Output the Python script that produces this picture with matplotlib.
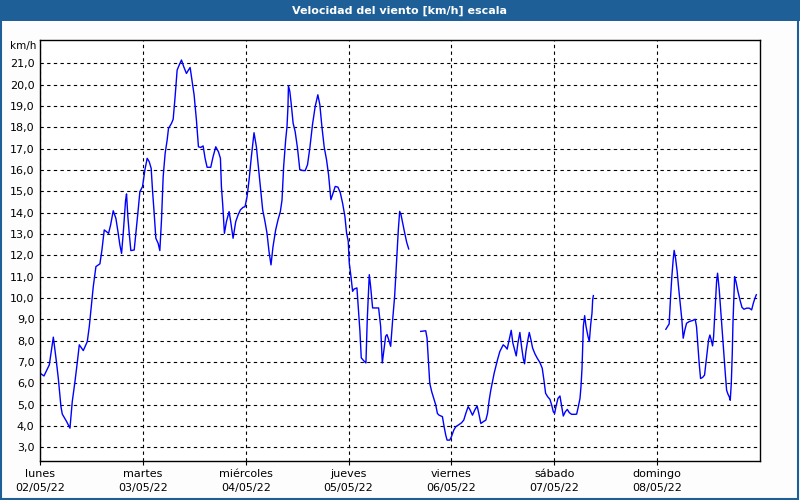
import numpy as np
import matplotlib.pyplot as plt
from matplotlib.patches import Rectangle

# hours since lunes 02/05/22 00:00 and wind speed in km/h (nan = gap)
hours = [0.0, 0.93, 2.17, 3.11, 3.73, 4.27, 4.89, 5.2, 6.21, 6.99, 7.53, 8.16, 8.7, 9.17,
         10.1, 11.03, 11.5, 12.04, 12.43, 13.05, 13.98, 14.45, 14.99, 16.0, 16.47, 17.09,
         17.71, 18.25, 18.64, 19.03, 19.42, 19.96, 20.19, 20.5, 20.82, 21.2, 21.98, 22.37,
         22.91, 23.3, 23.92, 24.47, 25.01, 25.48, 25.94, 26.25, 26.64, 27.03, 27.57, 27.96,
         28.35, 28.74, 29.2, 29.67, 29.98, 30.68, 31.07, 31.46, 32.0, 32.47, 33.01, 33.55,
         34.17, 34.64, 35.03, 35.5, 35.96, 36.5, 36.97, 37.51, 38.06, 38.52, 38.99, 39.84,
         40.39, 41.01, 41.63, 42.1, 42.33, 42.64, 43.03, 43.5, 44.12, 44.5, 45.05, 45.67,
         46.21, 46.76, 47.38, 47.84, 48.31, 48.78, 49.32, 49.94, 50.49, 50.95, 51.5, 51.96,
         52.5, 52.97, 53.44, 53.9, 54.37, 54.99, 55.53, 56.08, 56.47, 56.85, 57.32, 57.63,
         57.86, 57.97, 58.29, 58.6, 59.06, 59.53, 60.08, 60.62, 61.25, 61.87, 62.42, 62.96,
         63.58, 64.21, 64.83, 65.3, 65.77, 66.31, 66.86, 67.33, 67.87, 68.26, 68.88, 69.51,
         70.05, 70.6, 71.14, 71.53, 71.92, 72.16, 72.55, 72.94, 73.32, 73.95, 74.34, 74.65,
         74.96, 75.51, 76.05, 76.36, 76.83, 77.14, 77.61, 78.39, 79.01, 79.48, 79.87, 80.26,
         80.65, 80.96, 81.35, 81.82, 82.29, 82.75, 83.22, 83.61, 83.92, 84.23, 84.62, 85.09,
         85.56, 86.03, 87.4,
         88.83, 90.0, 90.31, 90.62, 90.94, 91.4, 91.87, 92.34, 92.73, 93.12, 93.9, 94.29,
         94.68, 94.99, 95.61, 96.0, 96.55, 97.01, 97.56, 98.34, 98.88, 99.35, 99.9, 100.29,
         100.91, 101.45, 102.0, 102.39, 102.86, 103.4, 104.03, 104.42, 104.81, 105.19,
         105.58, 105.97, 106.36, 106.75, 107.3, 107.69, 108.08, 108.55, 109.01, 109.48,
         109.95, 110.34, 110.73, 111.12, 111.51, 111.97, 112.36, 112.75, 113.06, 113.38,
         113.77, 114.16, 114.55, 114.94, 115.48, 116.03, 116.65, 117.19, 117.58, 117.97,
         118.44, 118.99, 119.38, 119.77, 120.08, 120.39, 120.86, 121.32, 121.79, 122.1,
         122.57, 123.04, 123.5, 124.05, 124.83, 125.22, 125.61, 126.0, 126.23, 126.47,
         126.62, 126.78, 127.09, 127.4, 127.87, 128.18, 128.49, 128.8, 128.96, 129.12, 137.0,
         146.03, 146.8, 147.12, 147.43, 147.74, 147.97, 148.29, 148.67, 149.06, 149.45,
         149.77, 150.08, 150.47, 150.86, 151.48, 152.26, 152.88, 153.19, 153.58, 153.81,
         154.13, 154.6, 155.06, 155.38, 155.69, 156.0, 156.31, 156.62, 156.93, 157.17,
         157.4, 157.64, 157.87, 158.1, 158.49, 158.88, 159.27, 159.58, 159.9, 160.21,
         160.52, 160.83, 161.06, 161.3, 161.53, 161.69, 161.92, 162.08, 162.39, 162.86,
         163.32, 163.79, 164.26, 164.88, 165.5, 166.05, 166.44, 166.83, 167.14]
speed = [6.47, 6.34, 6.86, 8.16, 7.17, 6.23, 4.9, 4.55, 4.2, 3.89, 5.14, 6.08, 6.97, 7.8,
         7.53, 7.95, 8.66, 9.75, 10.53, 11.47, 11.6, 12.25, 13.19, 13.03, 13.42, 14.09,
         13.73, 13.03, 12.48, 12.09, 13.03, 14.56, 14.88, 13.81, 13.03, 12.22, 12.25, 13.03,
         14.13, 14.98, 15.22, 16.0, 16.55, 16.39, 16.08, 15.06, 13.97, 12.8, 12.56, 12.22,
         13.66, 15.69, 16.78, 17.41, 17.95, 18.19, 18.38, 19.28, 20.69, 20.92, 21.16, 20.84,
         20.53, 20.69, 20.81, 20.14, 19.52, 18.34, 17.09, 17.06, 17.13, 16.55, 16.13, 16.13,
         16.63, 17.09, 16.86, 16.55, 15.22, 14.36, 13.03, 13.58, 14.05, 13.58, 12.8, 13.58,
         13.89, 14.13, 14.25, 14.28, 14.75, 15.53, 16.63, 17.75, 17.09, 16.16, 15.06, 14.13,
         13.58, 13.03, 12.17, 11.55, 12.41, 13.19, 13.66, 14.05, 14.59, 16.16, 17.41, 18.03,
         18.97, 19.95, 19.69, 19.14, 18.2, 17.81, 17.03, 16.02, 15.98, 15.97, 16.25, 17.03,
         18.13, 18.98, 19.53, 19.06, 18.05, 17.08, 16.48, 15.78, 14.61, 14.84, 15.23, 15.2,
         14.95, 14.45, 13.83, 13.05, 12.66, 11.64, 11.02, 10.31, 10.42, 10.47, 9.3, 8.44,
         7.19, 7.06, 6.95, 8.98, 11.09, 10.55, 9.53, 9.53, 9.53, 8.67, 6.95, 7.58,
         8.2, 8.28, 8.05, 7.73, 8.98, 10.08, 11.8, 13.2, 14.06, 13.91, 13.52, 13.05,
         12.61, 12.3, np.nan,
         8.43, 8.46, 8.12, 7.1, 6.0, 5.6, 5.29, 4.98, 4.58, 4.5, 4.43, 3.96,
         3.56, 3.33, 3.33, 3.49, 3.8, 3.96, 4.03, 4.14, 4.27, 4.58, 4.9, 4.77,
         4.5, 4.74, 4.93, 4.58, 4.11, 4.19, 4.27, 4.58, 5.21, 5.68,
         6.08, 6.47, 6.78, 7.1, 7.49, 7.65, 7.8, 7.72, 7.6, 8.04,
         8.48, 7.88, 7.57, 7.28, 7.88, 8.38, 7.72, 7.17, 6.91, 7.49,
         7.96, 8.38, 8.04, 7.65, 7.38, 7.17, 6.97, 6.7, 6.15, 5.53,
         5.37, 5.24, 4.98, 4.66, 4.58, 4.9, 5.29, 5.4, 4.82, 4.46,
         4.66, 4.77, 4.62, 4.54, 4.54, 4.55, 4.9, 5.29, 5.84, 6.7,
         7.72, 8.67, 9.17, 8.67, 8.19, 7.96, 8.74, 9.29, 9.92, 10.11, np.nan,
         8.53, 8.78, 9.99, 11.0, 11.79, 12.23, 11.87, 11.24, 10.38, 9.6,
         8.97, 8.11, 8.5, 8.81, 8.89, 8.94, 9.0, 8.65, 7.56, 6.93,
         6.22, 6.27, 6.38, 6.93, 7.48, 8.03, 8.26, 8.03, 7.75, 8.18,
         9.05, 9.91, 10.77, 11.16, 10.38, 9.28, 8.18, 7.24, 6.46, 5.67,
         5.49, 5.36, 5.2, 5.99, 7.4, 8.81, 10.07, 11.0, 10.77, 10.3,
         9.91, 9.56, 9.47, 9.52, 9.52, 9.44, 9.75, 9.99, 10.15]

day_hours = [0, 24, 48, 72, 96, 120, 144]
day_names = ['lunes', 'martes', 'miércoles', 'jueves', 'viernes', 'sábado', 'domingo']
day_dates = ['02/05/22', '03/05/22', '04/05/22', '05/05/22', '06/05/22', '07/05/22', '08/05/22']
y_ticks = list(range(3, 22))

plt.rcParams['font.family'] = ['DejaVu Sans']

fig = plt.figure(figsize=(8, 5), dpi=100, facecolor='#fdfdfd')

# title bar and frame
fig.patches.append(Rectangle((0, 0.959), 1, 0.041, transform=fig.transFigure,
                             facecolor='#1d5f96', edgecolor='none', zorder=0))
fig.patches.append(Rectangle((0.001, 0.002), 0.997, 0.996, transform=fig.transFigure,
                             facecolor='none', edgecolor='#1d5f96', linewidth=1.5, zorder=1))
fig.text(0.5, 0.979, 'Velocidad del viento [km/h] escala', color='white',
         fontsize=8, fontweight='bold', ha='center', va='center')

ax = fig.add_axes([0.05, 0.078, 0.9, 0.842])
ax.set_facecolor('white')
ax.plot(hours, speed, color='#0000ff', linewidth=1.0)

ax.set_xlim(0, 168)
ax.set_ylim(2.35, 22.1)
ax.set_yticks(y_ticks)
ax.set_yticklabels([f'{v},0' for v in y_ticks])
ax.set_xticks(day_hours)
ax.set_xticklabels([f'{n}\n{d}' for n, d in zip(day_names, day_dates)], linespacing=1.5)

ax.grid(True, color='black', linestyle=(0, (3, 3)), linewidth=0.8)
ax.tick_params(axis='y', length=0, pad=4, labelsize=8)
ax.tick_params(axis='x', length=3, pad=3, labelsize=8, direction='out')
for s in ax.spines.values():
    s.set_color('black')
    s.set_linewidth(1.0)

fig.text(0.046, 0.908, 'km/h', fontsize=7.5, ha='right', va='center')

fig.savefig('out.png', dpi=100, facecolor=fig.get_facecolor())
